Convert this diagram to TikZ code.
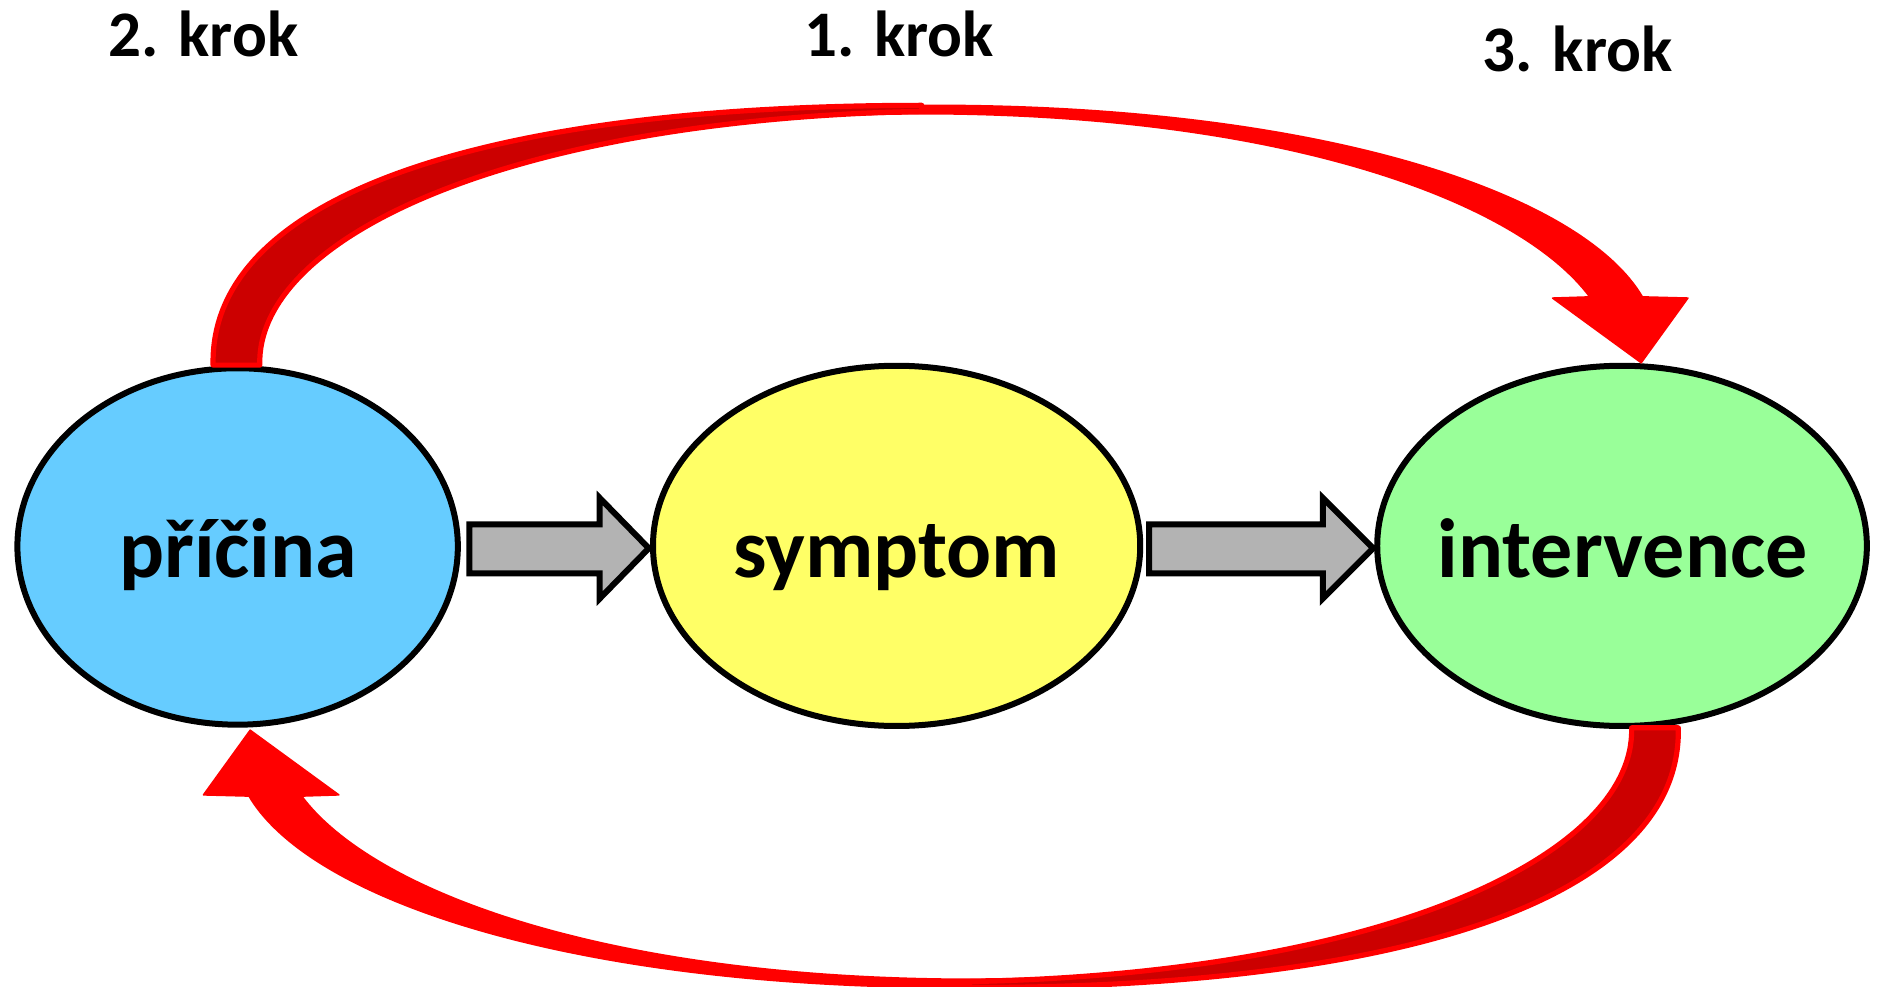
\documentclass[tikz,border=0pt]{standalone}
\usepackage{fontspec}
\setmainfont{Carlito}
\usetikzlibrary{shapes.geometric}
\definecolor{blueA}{HTML}{66CCFF}
\definecolor{yellowB}{HTML}{FFFF66}
\definecolor{greenC}{HTML}{99FF99}
\definecolor{greyArr}{HTML}{B3B3B3}
\definecolor{darkRed}{HTML}{CC0000}
\definecolor{brightRed}{HTML}{FF0000}
\newcommand{\krokArrow}{%
  % bright front band with head
  \filldraw[frontband]
    (600,94) .. controls (700,89) and (740,88) .. (780,88)
    .. controls (1100,88) and (1320,160) .. (1372,248)
    -- (1410,249) -- (1371,303) -- (1297,249) -- (1328,248)
    .. controls (1270,170) and (1080,97) .. (780,95)
    .. controls (720,95) and (660,98) .. (600,100) -- cycle;
  % dark back band (rising from the source ellipse)
  \filldraw[backband]
    (178,305) .. controls (175,165) and (400,88) .. (770,88)
    -- (770,93)
    .. controls (420,100) and (214,200) .. (217,305) -- cycle;
}
\begin{document}
\begin{tikzpicture}[x=0.5985pt,y=-0.5985pt,
  bubble/.style={ellipse, draw=black, line width=3pt, inner sep=0pt},
  lbl/.style={anchor=base, inner sep=0pt, font=\fontsize{42}{50}\selectfont\bfseries},
  kroklbl/.style={anchor=base, inner sep=0pt, font=\fontsize{32.5}{39}\selectfont\bfseries},
  greyblock/.style={fill=greyArr, draw=black, line width=3pt, miter limit=10},
  backband/.style={fill=darkRed, draw=brightRed, line width=2.6pt, line join=round},
  frontband/.style={fill=brightRed, draw=brightRed, line width=0.8pt, line join=round}]
\useasboundingbox (0,0) rectangle (1568,824);

% ellipses
\node[bubble, fill=blueA,   minimum width=220.2pt, minimum height=178.2pt] (A) at (198.5,456.5) {};
\node[bubble, fill=yellowB, minimum width=243.6pt, minimum height=180.1pt] (B) at (749,456) {};
\node[bubble, fill=greenC,  minimum width=244.8pt, minimum height=180.1pt] (C) at (1355,456) {};

% labels inside
\node[lbl] (tA) at (199,482) {příčina};
\node[lbl] (tB) at (749,482) {symptom};
\node[lbl] (tC) at (1355.5,482) {intervence};

% step labels
\node[kroklbl] (k2) at (170,47) {2. krok};
\node[kroklbl] (k1) at (751,47) {1. krok};
\node[kroklbl] (k3) at (1318,60) {3. krok};

% grey block arrows
\coordinate (g1tip) at (542,458);
\coordinate (g2tip) at (1147,458);
\draw[greyblock] (392,438) -- (501,438) -- (501,416) -- (g1tip) -- (501,500) -- (501,479) -- (392,479) -- cycle;
\draw[greyblock] (960,438) -- (1105,438) -- (1105,416) -- (g2tip) -- (1105,500) -- (1105,479) -- (960,479) -- cycle;

% red curved arrows
\krokArrow
\begin{scope}[rotate around={180:(790,456.5)}]
\krokArrow
\end{scope}
\end{tikzpicture}
\end{document}
